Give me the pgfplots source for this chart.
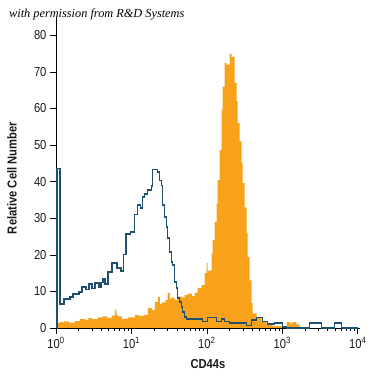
\documentclass[border=0pt]{standalone}
\usepackage{pgfplots}
\pgfplotsset{compat=1.18}
\usepackage{fontspec}
\setmainfont{Liberation Sans}[FakeStretch=0.86]
\newfontfamily\capfont{Liberation Serif}
\definecolor{org}{RGB}{248,162,28}
\definecolor{nav}{RGB}{30,80,112}
\begin{document}
\begin{tikzpicture}[x=1pt,y=1pt]
\path[use as bounding box] (0,0) rectangle (375,375);
\node[anchor=west, inner sep=0pt, font=\capfont\itshape\fontsize{12.3}{14}\selectfont] at (9,360) {with permission from R\&D Systems};
\begin{axis}[
  at={(56pt,47pt)}, anchor=south west, scale only axis,
  width=304pt, height=311pt,
  xmin=0, xmax=4.03, ymin=0, ymax=85,
  axis lines=left, axis line style={-, line width=0.8pt},
  tick align=outside, major tick length=6pt, minor tick length=3pt,
  tick style={black, line width=0.5pt},
  xtick={0,1,2,3,4},
  xticklabels={10\textsuperscript{0},10\textsuperscript{1},10\textsuperscript{2},10\textsuperscript{3},10\textsuperscript{4}},
  minor xtick={0.301,0.477,0.602,0.699,0.778,0.845,0.903,0.954,1.301,1.477,1.602,1.699,1.778,1.845,1.903,1.954,2.301,2.477,2.602,2.699,2.778,2.845,2.903,2.954,3.301,3.477,3.602,3.699,3.778,3.845,3.903,3.954},
  ytick={0,10,...,80},
  /pgf/number format/assume math mode=true,
  tick label style={font=\fontsize{13}{15}\selectfont, text=black!90},
  xlabel={\bfseries CD44s}, ylabel={\bfseries Relative Cell Number},
  label style={font=\fontsize{13}{15}\selectfont, text=black!90},
  xlabel style={at={(axis description cs:0.5,0)}, anchor=center, yshift=-36pt},
  ylabel style={at={(axis description cs:0,0.482)}, anchor=center, yshift=44pt},
  clip=false,
]
\addplot[const plot, fill=org, draw=none] coordinates {
(0,1.4)(0.053,1.6)(0.106,1.8)(0.17,1.5)(0.251,1.9)(0.317,2.4)(0.384,2.2)(0.43,2.8)(0.48,2.4)(0.556,2.9)(0.62,3.2)(0.68,2.8)(0.74,3.4)(0.780,5.0)(0.800,3.6)(0.820,3.2)(0.873,2.5)(0.95,2.9)(1.045,3.5)(1.10,3.3)(1.164,3.6)(1.217,5.5)(1.270,4.9)(1.310,7.1)(1.349,8.5)(1.376,6.6)(1.402,7.0)(1.45,7.6)(1.481,9.5)(1.508,8.0)(1.534,8.3)(1.574,7.7)(1.614,8.6)(1.667,8.4)(1.706,9.0)(1.75,9.4)(1.80,8.7)(1.839,9.7)(1.878,10.9)(1.931,11.7)(1.971,15.0)(1.997,17.8)(2.011,15.7)(2.063,20.4)(2.077,24)(2.103,29)(2.130,34)(2.143,40.4)(2.169,48.6)(2.196,59.6)(2.209,66)(2.235,72.4)(2.262,72)(2.302,75)(2.328,74)(2.368,67)(2.394,62)(2.407,56)(2.434,51)(2.460,45)(2.474,39.6)(2.500,33)(2.526,26)(2.540,19.4)(2.566,13)(2.593,6.8)(2.606,4)(2.659,2.7)(2.725,1.7)(2.791,0.8)(2.870,0.5)(3.029,0.3)(3.056,1.6)(3.108,1.2)(3.135,1.6)(3.188,1.0)(3.228,0)
} \closedcycle;
\addplot[const plot, draw=nav, line width=1.3pt] coordinates {
(0.008,0)(0.012,43.5)(0.053,6.6)(0.106,7.9)(0.185,8.5)(0.225,9.3)(0.304,9.8)(0.344,11.2)(0.397,10.5)(0.437,12.0)(0.476,10.8)(0.516,12.3)(0.569,11.0)(0.595,12.5)(0.622,13.4)(0.648,12.0)(0.688,15.3)(0.741,17.8)(0.807,16.4)(0.860,15.6)(0.899,20.0)(0.926,25.7)(0.992,26.2)(1.045,31)(1.085,33.6)(1.124,32.8)(1.151,35.8)(1.177,36.6)(1.217,37.7)(1.270,38.8)(1.283,43.4)(1.349,42.6)(1.376,40.4)(1.402,39)(1.415,33.6)(1.442,30.3)(1.468,27.6)(1.481,24.6)(1.508,20.8)(1.534,18)(1.548,17.2)(1.574,12.6)(1.601,10.9)(1.614,8.2)(1.640,7.1)(1.667,5.7)(1.680,4.4)(1.706,3.0)(1.733,2.5)(1.944,1.7)(2.011,2.8)(2.130,1.7)(2.196,2.5)(2.235,1.7)(2.302,1.4)(2.526,0.6)(2.593,2.2)(2.659,2.8)(2.738,1.7)(2.804,1.1)(2.897,1.4)(3.003,0.3)(3.056,0)(3.360,1.4)(3.519,0)(3.690,1.4)(3.783,0)(4.0,0)
};
\end{axis}
\end{tikzpicture}
\end{document}
